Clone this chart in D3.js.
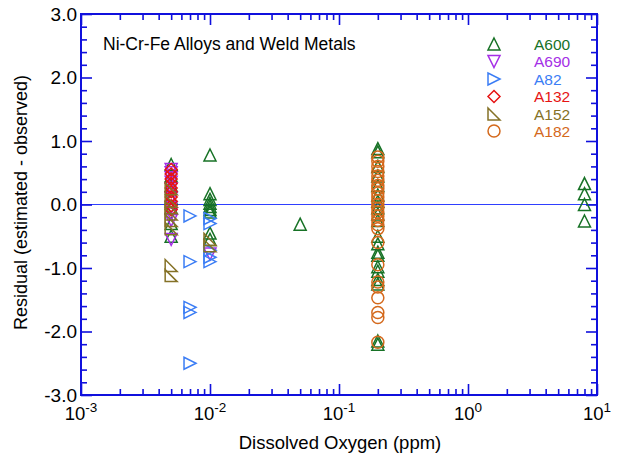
<!DOCTYPE html>
<html>
<head>
<meta charset="utf-8">
<script src="https://cdn.jsdelivr.net/npm/d3@7"></script>
<style>
  html, body { margin: 0; padding: 0; background: #fff; }
  svg { display: block; font-family: Arial, "Liberation Sans", sans-serif; }
</style>
</head>
<body>
<svg id="chart" width="619" height="456"></svg>
<script>
// ---- data ----
const seriesNames = ["A600", "A690", "A82", "A132", "A152", "A182"];
const seriesColors = ["#177226", "#a52ee6", "#3b7df5", "#e61414", "#857227", "#d4691c"];

const a600X = [0.005,0.005,0.005,0.005,0.005,0.005,0.005,
  0.01,0.01,0.01,0.01,0.01,0.01,0.01,0.01,0.01,
  0.05,
  0.2,0.2,0.2,0.2,0.2,0.2,0.2,0.2,0.2,0.2,0.2,0.2,0.2,0.2,0.2,0.2,0.2,0.2,0.2,0.2,
  8,8,8,8];
const a600Y = [0.63,0.45,0.3,0.1,-0.05,-0.3,-0.5,
  0.78,0.17,0.08,0.02,-0.03,-0.08,-0.12,-0.45,-0.55,
  -0.31,
  0.88,0.83,0.6,0.45,0.3,0.15,0.05,-0.05,-0.15,-0.25,-0.5,-0.62,-0.75,-0.8,-0.98,-1.05,-1.18,-1.25,-2.15,-2.2,
  0.33,0.17,0.0,-0.26];

const a690X = [0.005,0.005,0.005,0.005,0.005,0.005,0.005,0.005,0.005,0.005,0.01];
const a690Y = [0.55,0.5,0.42,0.35,0.25,0.1,-0.05,-0.15,-0.25,-0.55,-0.78];

const a82X = [0.007,0.007,0.007,0.007,0.007,0.01,0.01,0.01,0.01,0.01];
const a82Y = [-0.18,-0.9,-1.62,-1.7,-2.5,-0.22,-0.3,-0.72,-0.83,-0.9];

const a132X = [0.005,0.005,0.005,0.005,0.005,0.005,0.005,0.005,0.005,0.005];
const a132Y = [0.55,0.48,0.4,0.33,0.26,0.2,0.12,0.05,-0.02,-0.08];

const a152X = [0.005,0.005,0.005,0.005,0.005,0.005,0.005,0.005,0.01,0.01];
const a152Y = [0.25,0.05,-0.05,-0.15,-0.25,-0.38,-0.96,-1.12,-0.55,-0.65];

const a182X = [0.2,0.2,0.2,0.2,0.2,0.2,0.2,0.2,0.2,0.2,0.2,0.2,0.2,0.2,0.2,0.2,0.2,0.2,0.2,0.2,0.2,0.2,0.2,0.2,0.2,0.2];
const a182Y = [0.75,0.68,0.6,0.52,0.45,0.38,0.3,0.25,0.18,0.12,0.06,0.0,-0.06,-0.12,-0.18,-0.25,-0.32,-0.38,-0.6,-0.95,-1.22,-1.3,-1.47,-1.7,-1.78,-2.17];

const xMajorTicks = [0.001, 0.01, 0.1, 1, 10];
const xTickExponents = ["-3", "-2", "-1", "0", "1"];
const yMajorTicks = [-3, -2, -1, 0, 1, 2, 3];
const yTickLabels = ["-3.0", "-2.0", "-1.0", "0.0", "1.0", "2.0", "3.0"];

const titleText = "Ni-Cr-Fe Alloys and Weld Metals";
const xLabel = "Dissolved Oxygen (ppm)";
const yLabel = "Residual (estimated - observed)";

// ---- layout ----
const svg = d3.select("#chart");
const L = 81, R = 597, T = 14, B = 395;
const axisColor = "#1010dd";

const x = d3.scaleLog().domain([0.001, 10]).range([L, R]);
const y = d3.scaleLinear().domain([-3, 3]).range([B, T]);

// minor ticks
const xMinor = [];
for (let e = -3; e < 1; e++) for (let m = 2; m <= 9; m++) xMinor.push(m * Math.pow(10, e));
const yMinor = d3.range(-30, 31, 2).map(v => v / 10).filter(v => Math.abs(v - Math.round(v)) > 1e-9);

// zero line
svg.append("line")
  .attr("x1", L).attr("x2", R).attr("y1", y(0)).attr("y2", y(0))
  .attr("stroke", "#2f3fff").attr("stroke-width", 1);

function styleAxis(g) {
  g.select(".domain").remove();
  g.selectAll("line").attr("stroke", axisColor).attr("stroke-width", 1.6);
  g.selectAll("text").remove();
}

// bottom / top
svg.append("g").attr("transform", `translate(0,${B})`)
  .call(d3.axisBottom(x).tickValues(xMajorTicks).tickSize(-11)).call(styleAxis);
svg.append("g").attr("transform", `translate(0,${B})`)
  .call(d3.axisBottom(x).tickValues(xMinor).tickSize(-6)).call(styleAxis);
svg.append("g").attr("transform", `translate(0,${T})`)
  .call(d3.axisTop(x).tickValues(xMajorTicks).tickSize(-11)).call(styleAxis);
svg.append("g").attr("transform", `translate(0,${T})`)
  .call(d3.axisTop(x).tickValues(xMinor).tickSize(-6)).call(styleAxis);
// left / right
svg.append("g").attr("transform", `translate(${L},0)`)
  .call(d3.axisLeft(y).tickValues(yMajorTicks).tickSize(-11)).call(styleAxis);
svg.append("g").attr("transform", `translate(${L},0)`)
  .call(d3.axisLeft(y).tickValues(yMinor).tickSize(-6)).call(styleAxis);
svg.append("g").attr("transform", `translate(${R},0)`)
  .call(d3.axisRight(y).tickValues(yMajorTicks).tickSize(-11)).call(styleAxis);
svg.append("g").attr("transform", `translate(${R},0)`)
  .call(d3.axisRight(y).tickValues(yMinor).tickSize(-6)).call(styleAxis);

// frame
svg.append("rect").attr("x", L).attr("y", T).attr("width", R - L).attr("height", B - T)
  .attr("fill", "none").attr("stroke", axisColor).attr("stroke-width", 2);

// y tick labels
svg.append("g").selectAll("text").data(yMajorTicks).join("text")
  .attr("x", L - 4).attr("y", d => y(d)).attr("dy", "0.36em")
  .attr("text-anchor", "end").attr("font-size", 19).attr("fill", "#000")
  .text((d, i) => yTickLabels[i]);

// x tick labels
const xl = svg.append("g").selectAll("text").data(xMajorTicks).join("text")
  .attr("x", d => x(d)).attr("y", 420)
  .attr("text-anchor", "middle").attr("font-size", 18.5).attr("fill", "#000");
xl.append("tspan").text("10");
xl.append("tspan").attr("dy", -8).attr("font-size", 13.5).text((d, i) => xTickExponents[i]);

// axis titles
svg.append("text").attr("x", (L + R) / 2 + 1).attr("y", 449).attr("text-anchor", "middle")
  .attr("font-size", 18.5).attr("fill", "#000").text(xLabel);
svg.append("text").attr("transform", `translate(27,${(T + B) / 2 - 2}) rotate(-90)`)
  .attr("text-anchor", "middle").attr("font-size", 18).attr("fill", "#000").text(yLabel);

// chart title
svg.append("text").attr("x", 103).attr("y", 50).attr("font-size", 17.5).attr("fill", "#000").text(titleText);

// ---- markers ----
function markerPath(kind) {
  const s = 6;
  switch (kind) {
    case 0: return `M0,${-s}L${s},${s}L${-s},${s}Z`;            // up triangle
    case 1: return `M0,${s}L${s},${-s}L${-s},${-s}Z`;           // down triangle
    case 2: return `M${s},0L${-s},${s}L${-s},${-s}Z`;           // right triangle
    case 3: return `M0,${-s}L${s},0L0,${s}L${-s},0Z`;           // diamond
    case 4: return `M${-s},${-s}L${-s},${s}L${s},${s}Z`;        // right-angle triangle
    default: return null;                                       // circle
  }
}
const allSeries = [
  [a600X, a600Y], [a690X, a690Y], [a82X, a82Y],
  [a132X, a132Y], [a152X, a152Y], [a182X, a182Y]
];
const plot = svg.append("g");
allSeries.forEach(([xs, ys], k) => {
  const pts = xs.map((xv, i) => ({ x: xv, y: ys[i] }));
  const g = plot.append("g");
  if (k === 5) {
    g.selectAll("circle").data(pts).join("circle")
      .attr("cx", d => x(d.x)).attr("cy", d => y(d.y)).attr("r", 6)
      .attr("fill", "none").attr("stroke", seriesColors[k]).attr("stroke-width", 1.5);
  } else {
    g.selectAll("path").data(pts).join("path")
      .attr("transform", d => `translate(${x(d.x)},${y(d.y)})`)
      .attr("d", markerPath(k))
      .attr("fill", "none").attr("stroke", seriesColors[k]).attr("stroke-width", 1.5);
  }
});

// ---- legend ----
const legendY = [44, 61.5, 79, 96.5, 114, 131];
const leg = svg.append("g");
seriesNames.forEach((name, k) => {
  const cy = legendY[k];
  if (k === 5) {
    leg.append("circle").attr("cx", 494).attr("cy", cy).attr("r", 6)
      .attr("fill", "none").attr("stroke", seriesColors[k]).attr("stroke-width", 1.5);
  } else {
    leg.append("path").attr("transform", `translate(494,${cy})`).attr("d", markerPath(k))
      .attr("fill", "none").attr("stroke", seriesColors[k]).attr("stroke-width", 1.5);
  }
  leg.append("text").attr("x", 534).attr("y", cy).attr("dy", "0.36em")
    .attr("font-size", 15.5).attr("fill", seriesColors[k]).text(name);
});
</script>
</body>
</html>
